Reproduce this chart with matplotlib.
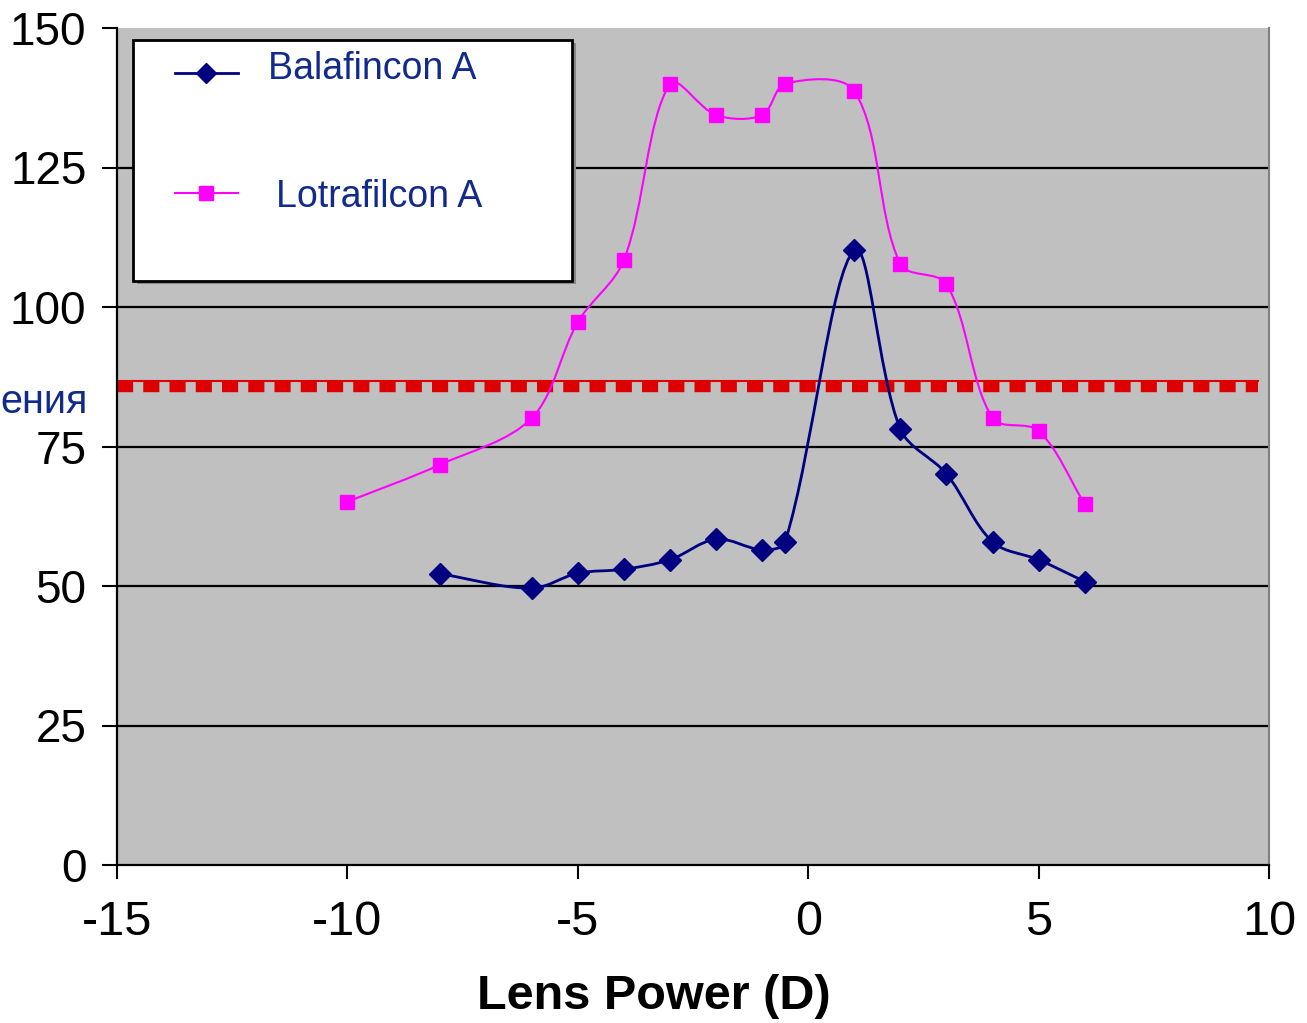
import matplotlib
matplotlib.use('Agg')
import matplotlib.pyplot as plt
from matplotlib.path import Path
from matplotlib.patches import PathPatch, Rectangle
from matplotlib.lines import Line2D
import numpy as np

plt.rcParams['axes.unicode_minus'] = False

# данные
bal_x = [-8, -6, -5, -4, -3, -2, -1, -0.5, 1, 2, 3, 4, 5, 6]
bal_y = [52.2, 49.6, 52.3, 53.0, 54.7, 58.4, 56.5, 57.9, 110.2, 78.1, 70.1, 57.9, 54.7, 50.8]

lot_x = [-10, -8, -6, -5, -4, -3, -2, -1, -0.5, 1, 2, 3, 4, 5, 6]
lot_y = [65.1, 71.7, 80.1, 97.3, 108.4, 140.0, 134.4, 134.4, 140.0, 138.7, 107.7, 104.1, 80.1, 77.8, 64.7]

ref_x = [-15, 9.77]      # красная пороговая линия
ref_level = 86.0

x_ticks = [-15, -10, -5, 0, 5, 10]
y_ticks = [0, 25, 50, 75, 100, 125, 150]

NAVY = '#000080'
MAGENTA = '#ff00ff'
RED = '#dd0000'
TEXT_BLUE = '#112a8c'
NARROW = ['Liberation Sans Narrow', 'Liberation Sans', 'DejaVu Sans']
SANS = ['Liberation Sans', 'DejaVu Sans']

# масштаб пикселей на единицу (для сглаживания)
SX = 1152 / 25.0
SY = 837 / 150.0


def smooth_path(xs, ys):
    # сглаженная линия как в Excel (кривые Безье через точки)
    pts = np.column_stack([np.array(xs) * SX, np.array(ys) * SY]).astype(float)
    n = len(pts)
    verts = [pts[0]]
    codes = [Path.MOVETO]
    for i in range(n - 1):
        p0 = pts[i - 1] if i > 0 else pts[i]
        p1 = pts[i]
        p2 = pts[i + 1]
        p3 = pts[i + 2] if i + 2 < n else pts[i + 1]
        d01 = np.hypot(*(p1 - p0))
        d12 = np.hypot(*(p2 - p1))
        d23 = np.hypot(*(p3 - p2))
        c1 = p1 + (p2 - p0) * (d12 / max(d01 + d12, 1e-9)) / 3.0
        c2 = p2 - (p3 - p1) * (d12 / max(d12 + d23, 1e-9)) / 3.0
        verts += [c1, c2, p2]
        codes += [Path.CURVE4] * 3
    verts = np.array(verts) / [SX, SY]
    return Path(verts, codes)


fig = plt.figure(figsize=(13.07, 10.23), dpi=100)
ax = fig.add_axes([117 / 1307, 1 - 865 / 1023, (1269 - 117) / 1307, (865 - 28) / 1023])
ax.set_facecolor('#c0c0c0')
ax.set_xlim(-15, 10)
ax.set_ylim(0, 150)

for yv in y_ticks[1:-1]:
    ax.axhline(yv, color='black', lw=1.6, zorder=1)

# красная линия
ax.plot(ref_x, [ref_level + 0.7] * 2, color=RED, lw=1.5, zorder=2)
ax.plot(ref_x, [ref_level - 0.3] * 2, color=RED, lw=7.5, dashes=(1.55, 0.97),
        dash_capstyle='butt', zorder=2)

ax.add_patch(PathPatch(smooth_path(lot_x, lot_y), facecolor='none', edgecolor=MAGENTA, lw=1.5, zorder=3))
ax.plot(lot_x, lot_y, ls='none', marker='s', ms=10.5, color=MAGENTA, zorder=4)

ax.add_patch(PathPatch(smooth_path(bal_x, bal_y), facecolor='none', edgecolor=NAVY, lw=2, zorder=5))
ax.plot(bal_x, bal_y, ls='none', marker='D', ms=11, color=NAVY, zorder=6)

ax.set_xticks(x_ticks)
ax.set_yticks(y_ticks)
ax.tick_params(axis='x', length=10, width=1.5, pad=15, labelsize=35)
ax.tick_params(axis='y', length=11, width=1.5, pad=11, labelsize=33)
for lab in ax.get_xticklabels():
    lab.set_family(NARROW)
for lab in ax.get_yticklabels():
    lab.set_family(NARROW)

ax.spines['top'].set_visible(False)
ax.spines['right'].set_color('#808080')
ax.spines['right'].set_linewidth(1.5)
ax.spines['left'].set_linewidth(1.6)
ax.spines['bottom'].set_linewidth(1.6)

ax.set_xlabel('Lens Power (D)', fontsize=35, fontweight='bold', family=SANS)
ax.xaxis.set_label_coords((654 - 117) / 1152, -(974 - 865) / 837)

# легенда
W, H = 1307.0, 1023.0
fig.patches.append(Rectangle((137 / W, 1 - 284 / H), 439 / W, 241 / H, transform=fig.transFigure,
                             facecolor='#888888', edgecolor='none', zorder=9))
fig.patches.append(Rectangle((133 / W, 1 - 281 / H), 439 / W, 241 / H, transform=fig.transFigure,
                             facecolor='white', edgecolor='black', lw=2, zorder=10))
fig.lines.append(Line2D([175 / W, 238 / W], [1 - 73 / H] * 2, transform=fig.transFigure,
                        color=NAVY, lw=2, zorder=11))
fig.lines.append(Line2D([206 / W], [1 - 73 / H], transform=fig.transFigure,
                        color=NAVY, marker='D', ms=10, zorder=12))
fig.lines.append(Line2D([175 / W, 238 / W], [1 - 193 / H] * 2, transform=fig.transFigure,
                        color=MAGENTA, lw=1.5, zorder=11))
fig.lines.append(Line2D([206 / W], [1 - 193 / H], transform=fig.transFigure,
                        color=MAGENTA, marker='s', ms=10, zorder=12))
fig.text(268 / W, 1 - 69 / H, 'Balafincon A', fontsize=27, color=TEXT_BLUE, family=SANS,
         va='center', ha='left', zorder=13)
fig.text(276 / W, 1 - 197 / H, 'Lotrafilcon A', fontsize=27, color=TEXT_BLUE, family=SANS,
         va='center', ha='left', zorder=13)

# обрезанная подпись слева
fig.text(88 / W, 1 - 413 / H, 'ения', fontsize=28.5, color=TEXT_BLUE, family=SANS,
         va='baseline', ha='right')

fig.savefig('out.png', dpi=100, facecolor='white')
